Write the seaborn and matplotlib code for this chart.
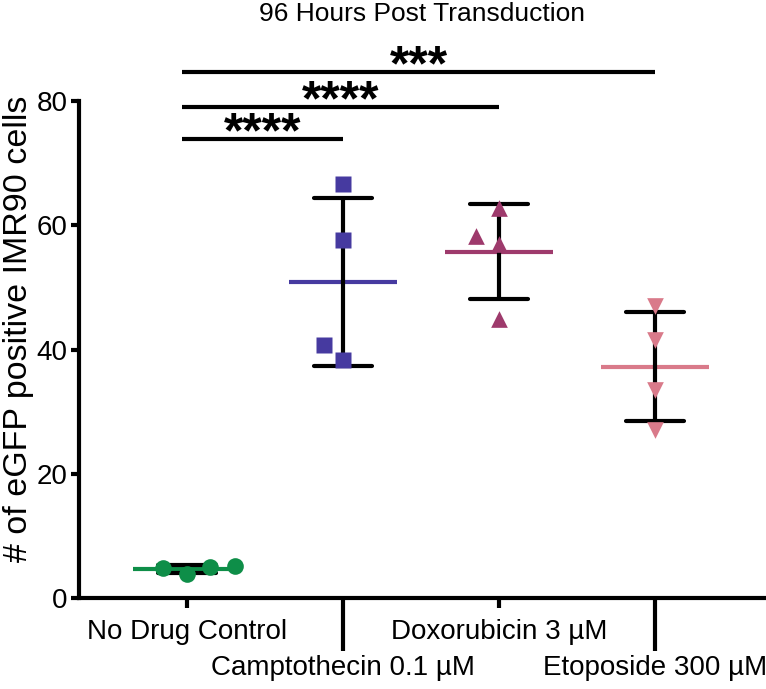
import numpy as np
import pandas as pd
import seaborn as sns
import matplotlib.pyplot as plt

# data
groups = ['No Drug Control', 'Camptothecin 0.1 µM', 'Doxorubicin 3 µM', 'Etoposide 300 µM']
no_drug = [3.8, 5.2, 4.9, 5.0]
campto = [66.6, 57.7, 40.8, 38.3]
doxo = [62.7, 58.3, 57.0, 44.9]
etopo = [47.0, 41.5, 33.5, 27.0]

colors = ['#0E8E48', '#463AA0', '#9E3A6C', '#D97A8A']
markers = ['o', 's', '^', 'v']

# significance comparisons (group a, group b, bar height, label)
comparisons = [(0, 1, 73.9, '****'), (0, 2, 79.1, '****'), (0, 3, 84.7, '***')]

df = pd.DataFrame({'group': np.repeat(groups, 4),
                   'value': no_drug + campto + doxo + etopo})

sns.set_style('ticks')
plt.rcParams['font.family'] = ['Liberation Sans', 'DejaVu Sans']
plt.rcParams.update({'text.color': 'black', 'axes.labelcolor': 'black',
                     'xtick.color': 'black', 'ytick.color': 'black',
                     'axes.edgecolor': 'black'})

fig = plt.figure(figsize=(7.66, 6.89), dpi=100)
ax = fig.add_axes([0.103, 0.132, 0.897, 0.781])

# mean lines
sns.pointplot(data=df, x='group', y='value', hue='group', order=groups, hue_order=groups,
              palette=colors, errorbar=None, marker='_', markersize=78, markeredgewidth=3,
              linestyle='none', legend=False, ax=ax)

# mean +/- SD
sns.pointplot(data=df, x='group', y='value', order=groups, color='black', errorbar='sd',
              capsize=0.37, marker='', linestyle='none', err_kws={'linewidth': 3}, ax=ax)

# individual points (invisible wide edge gives the swarm more room, like Prism)
for g, mk, c in zip(groups, markers, colors):
    sns.swarmplot(data=df[df['group'] == g], x='group', y='value', order=groups,
                  marker=mk, color=c, size=12, linewidth=5, edgecolor=(1, 1, 1, 0),
                  ax=ax, zorder=5)

# significance bars
for a, b, h, lab in comparisons:
    ax.plot([a - 0.03, b], [h, h], color='black', lw=3, solid_capstyle='butt', clip_on=False)
    ax.text((a - 0.03 + b) / 2, h - 1.4, lab, ha='center', va='baseline',
            fontsize=36, fontweight='bold')

ax.set_xlim(-0.69, 3.71)
ax.set_ylim(0, 86.6)
ax.set_yticks([0, 20, 40, 60, 80])
ax.set_xticks([0, 2], [groups[0], groups[2]])
ax.set_xticks([1, 3], [groups[1], groups[3]], minor=True)
ax.tick_params(axis='x', which='major', length=7, width=3, pad=8, labelsize=20)
ax.tick_params(axis='x', which='minor', length=38, width=3, pad=3, labelsize=20)
ax.tick_params(axis='y', length=6, width=3, pad=2, labelsize=20)

sns.despine(ax=ax)
ax.spines['left'].set_bounds(0, 80)
ax.spines['left'].set_linewidth(3)
ax.spines['bottom'].set_linewidth(3)

ax.set_xlabel('')
ax.set_ylabel('# of eGFP positive IMR90 cells', fontsize=24.5, labelpad=2)
ax.set_title('96 Hours Post Transduction', fontsize=19, pad=28)

fig.savefig('out.png', dpi=100)
